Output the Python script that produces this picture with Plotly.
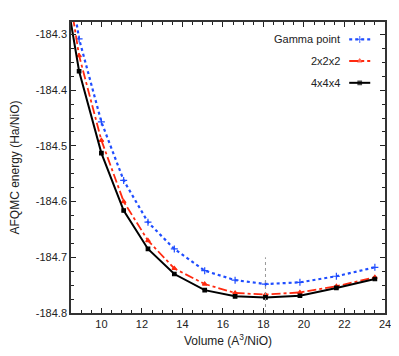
import plotly.graph_objects as go

volume = [7.9, 8.9, 10.0, 11.1, 12.3, 13.6, 15.1, 16.6, 18.1, 19.8, 21.6, 23.5]
gamma = [-184.08, -184.308, -184.457, -184.562, -184.637, -184.685, -184.724,
         -184.741, -184.748, -184.745, -184.734, -184.718]
k222 = [-184.11, -184.338, -184.490, -184.600, -184.670, -184.720, -184.748,
        -184.764, -184.767, -184.763, -184.752, -184.736]
k444 = [-184.15, -184.366, -184.513, -184.616, -184.685, -184.730, -184.759,
        -184.770, -184.772, -184.769, -184.755, -184.739]
series_names = ["Gamma point", "2x2x2", "4x4x4"]
xticks = [10, 12, 14, 16, 18, 20, 22, 24]
yticks = [-184.3, -184.4, -184.5, -184.6, -184.7, -184.8]
ytick_labels = ["-184.3", "-184.4", "-184.5", "-184.6", "-184.7", "-184.8"]
eq_volume = 18.1

BLUE = "#1f4dff"
RED = "#ff2a10"
BLACK = "#000000"

styles = [
    dict(color=BLUE, dash="dot", symbol="cross-thin", msize=5, width=2.2),
    dict(color=RED, dash="dashdot", symbol="triangle-up", msize=4, width=1.8),
    dict(color=BLACK, dash="solid", symbol="square", msize=3.5, width=2),
]

fig = go.Figure()
for ys, st in zip([gamma, k222, k444], styles):
    fig.add_trace(go.Scatter(
        x=volume, y=ys, mode="lines+markers",
        line=dict(color=st["color"], dash=st["dash"], width=st["width"]),
        marker=dict(symbol=st["symbol"], size=st["msize"], color=st["color"],
                    line=dict(color=st["color"], width=1.2)),
        showlegend=False, cliponaxis=True,
    ))

# manual legend (symbol on the right of the text)
leg_y = [0.940, 0.866, 0.791]
for name, st, ly in zip(series_names, styles, leg_y):
    fig.add_trace(go.Scatter(
        x=[0.886, 0.9195, 0.953], y=[ly, ly, ly], mode="lines+markers",
        xaxis="x2", yaxis="y2",
        line=dict(color=st["color"], dash=st["dash"], width=st["width"]),
        marker=dict(symbol=st["symbol"], size=[0, st["msize"], 0], color=st["color"],
                    line=dict(color=st["color"], width=1.2)),
        showlegend=False, hoverinfo="skip",
    ))
    fig.add_annotation(x=0.864, y=ly, xref="x2", yref="y2", text=name,
                       showarrow=False, xanchor="right", yanchor="middle",
                       font=dict(size=11, color="#222"))

fig.add_shape(type="line", x0=eq_volume, x1=eq_volume, y0=-184.8, y1=-184.70,
              xref="x", yref="y", line=dict(color="#999", width=1, dash="dot"))

axis_common = dict(
    showline=True, linecolor="#333", linewidth=1.5, mirror="ticks",
    ticks="inside", ticklen=5, tickcolor="#222", tickwidth=1,
    showgrid=False, zeroline=False, automargin=False,
    tickfont=dict(size=11, color="#222"),
)

fig.update_layout(
    width=399, height=356,
    margin=dict(l=63, r=22, t=14, b=51),
    paper_bgcolor="white", plot_bgcolor="white",
    font=dict(family="Liberation Sans, Arial, sans-serif", color="#222"),
    xaxis=dict(range=[8.5, 24], tickvals=xticks,
               minor=dict(dtick=0.5, tick0=0, ticks="inside", ticklen=3, tickcolor="#222"),
               title=dict(text="Volume (A<sup>3</sup>/NiO)", font=dict(size=12), standoff=8),
               **axis_common),
    yaxis=dict(range=[-184.8, -184.2776], tickvals=yticks, ticktext=ytick_labels,
               minor=dict(dtick=0.025, tick0=-184.8, ticks="inside", ticklen=3, tickcolor="#222"),
               title=dict(text="AFQMC energy (Ha/NiO)", font=dict(size=12), standoff=14),
               **axis_common),
    xaxis2=dict(overlaying="x", range=[0, 1], visible=False, anchor="y2"),
    yaxis2=dict(overlaying="y", range=[0, 1], visible=False, anchor="x2"),
)

fig.write_html("out.html")
